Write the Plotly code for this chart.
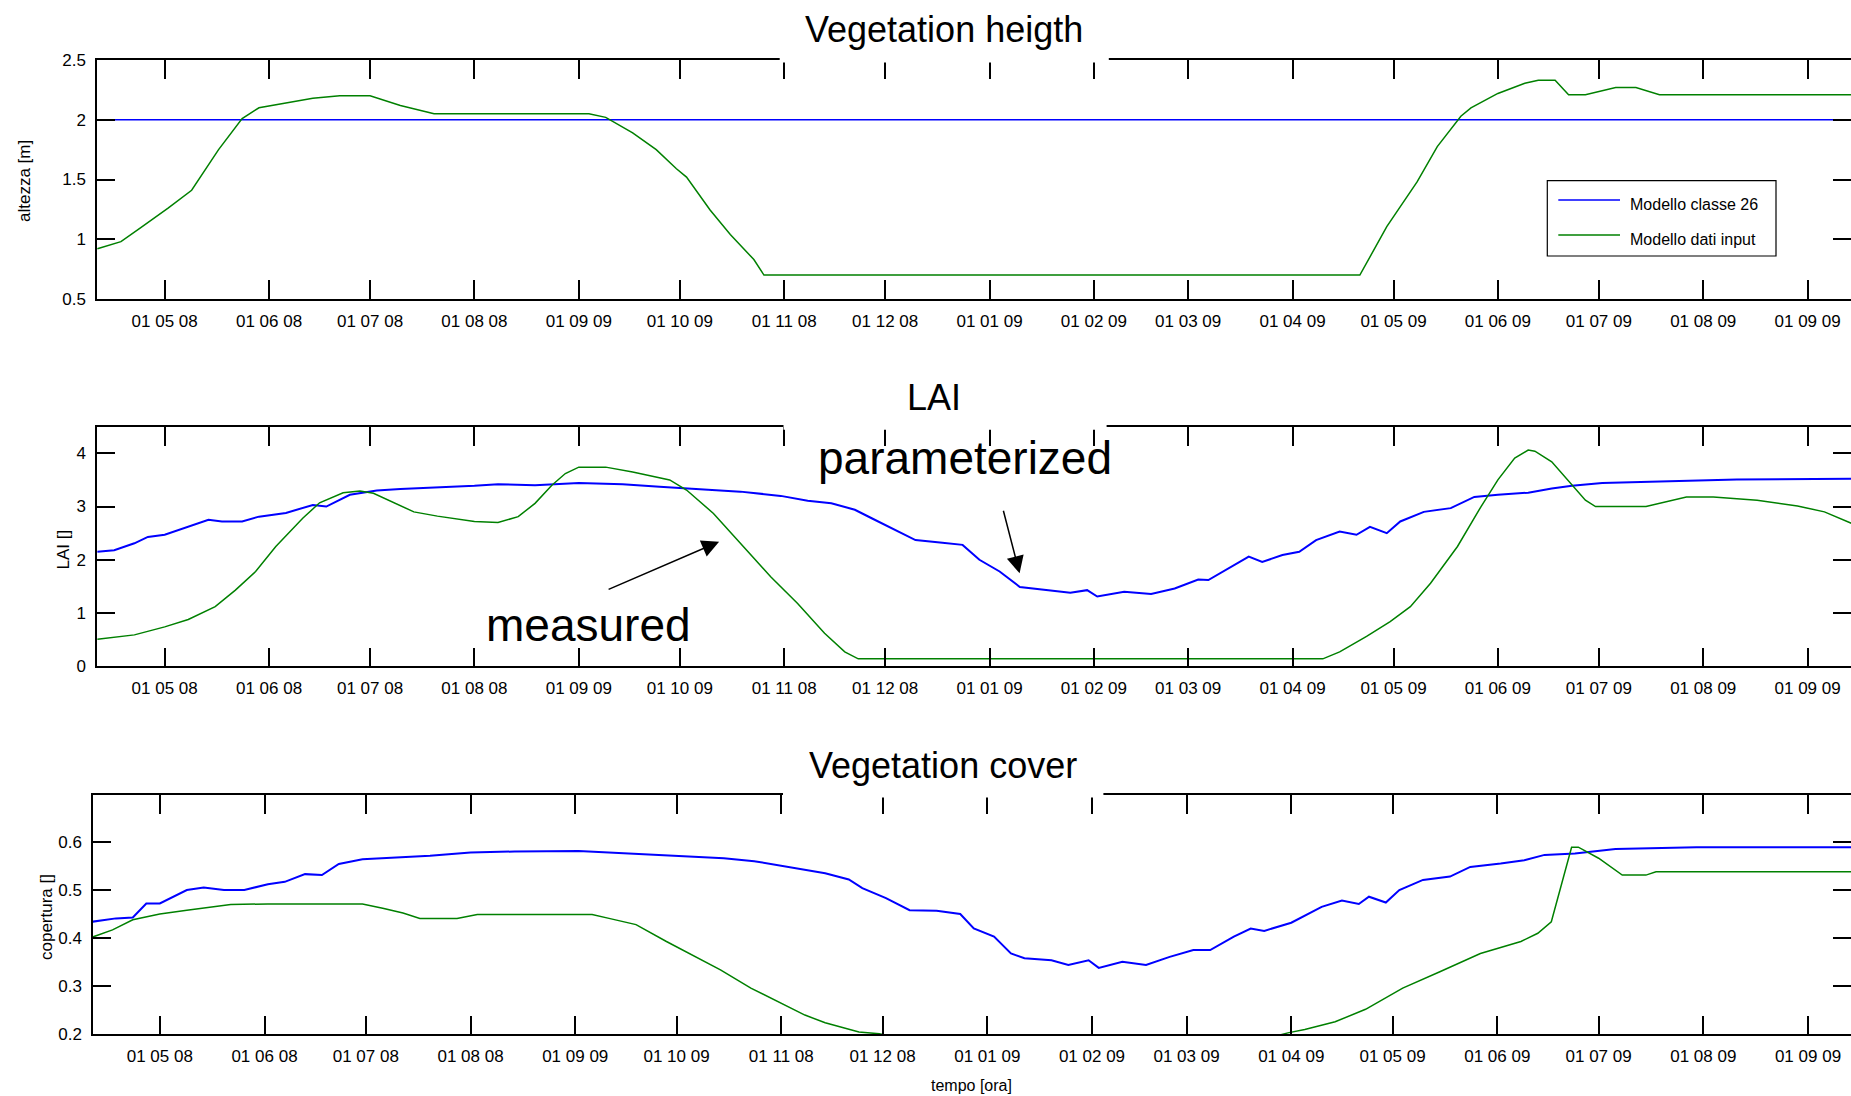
import plotly.graph_objects as go

# ---------------------------------------------------------------------------
# Data
# ---------------------------------------------------------------------------
tick_dates = ["2008-05-01", "2008-06-01", "2008-07-01", "2008-08-01", "2008-09-01",
              "2008-10-01", "2008-11-01", "2008-12-01", "2009-01-01", "2009-02-01",
              "2009-03-01", "2009-04-01", "2009-05-01", "2009-06-01", "2009-07-01",
              "2009-08-01", "2009-09-01"]
tick_text = ["01 05 08", "01 06 08", "01 07 08", "01 08 08", "01 09 09", "01 10 09",
             "01 11 08", "01 12 08", "01 01 09", "01 02 09", "01 03 09", "01 04 09",
             "01 05 09", "01 06 09", "01 07 09", "01 08 09", "01 09 09"]

# Vegetation height [m]
height_class_dates = ["2008-04-11", "2009-09-15"]
height_class = [2.0, 2.0]
height_input_dates = ["2008-04-11", "2008-04-18", "2008-04-24", "2008-05-02", "2008-05-09",
                      "2008-05-17", "2008-05-24", "2008-05-29", "2008-06-14", "2008-06-22",
                      "2008-07-01", "2008-07-10", "2008-07-20", "2008-09-04", "2008-09-09",
                      "2008-09-17", "2008-09-24", "2008-09-30", "2008-10-03", "2008-10-10",
                      "2008-10-16", "2008-10-23", "2008-10-26", "2009-04-21", "2009-04-29",
                      "2009-05-08", "2009-05-14", "2009-05-21", "2009-05-24", "2009-06-01",
                      "2009-06-09", "2009-06-13", "2009-06-18", "2009-06-22", "2009-06-27",
                      "2009-07-06", "2009-07-12", "2009-07-19", "2009-09-15"]
height_input = [0.92, 0.98, 1.10, 1.26, 1.41, 1.75, 2.01, 2.10, 2.18, 2.20,
                2.20, 2.12, 2.05, 2.05, 2.02, 1.89, 1.75, 1.59, 1.52, 1.245,
                1.04, 0.83, 0.70, 0.70, 1.105, 1.48, 1.775, 2.03, 2.10, 2.22,
                2.305, 2.33, 2.33, 2.21, 2.21, 2.27, 2.27, 2.21, 2.21]

# LAI []
lai_class_dates = ["2008-04-11", "2008-04-16", "2008-04-22", "2008-04-26", "2008-05-01",
                   "2008-05-08", "2008-05-14", "2008-05-18", "2008-05-24", "2008-05-29",
                   "2008-06-06", "2008-06-14", "2008-06-18", "2008-06-25", "2008-07-03",
                   "2008-07-10", "2008-07-24", "2008-08-01", "2008-08-08", "2008-08-19",
                   "2008-09-01", "2008-09-14", "2008-09-25", "2008-10-07", "2008-10-19",
                   "2008-10-31", "2008-11-08", "2008-11-15", "2008-11-22", "2008-11-27",
                   "2008-12-03", "2008-12-10", "2008-12-18", "2008-12-24", "2008-12-29",
                   "2009-01-04", "2009-01-10", "2009-01-18", "2009-01-25", "2009-01-30",
                   "2009-02-02", "2009-02-10", "2009-02-18", "2009-02-25", "2009-03-04",
                   "2009-03-07", "2009-03-12", "2009-03-19", "2009-03-23", "2009-03-29",
                   "2009-04-03", "2009-04-08", "2009-04-15", "2009-04-20", "2009-04-24",
                   "2009-04-29", "2009-05-03", "2009-05-10", "2009-05-18", "2009-05-25",
                   "2009-06-01", "2009-06-10", "2009-06-17", "2009-06-23", "2009-07-02",
                   "2009-07-18", "2009-08-11", "2009-09-15"]
lai_class = [2.15, 2.18, 2.31, 2.43, 2.47, 2.62, 2.75, 2.72, 2.72, 2.81,
             2.88, 3.03, 3.00, 3.22, 3.30, 3.33, 3.36, 3.39, 3.42, 3.40,
             3.44, 3.42, 3.37, 3.32, 3.28, 3.20, 3.11, 3.06, 2.94, 2.78,
             2.59, 2.37, 2.32, 2.28, 2.00, 1.78, 1.49, 1.43, 1.38, 1.43,
             1.31, 1.40, 1.36, 1.46, 1.63, 1.62, 1.81, 2.06, 1.96, 2.09,
             2.15, 2.37, 2.53, 2.47, 2.62, 2.50, 2.72, 2.90, 2.97, 3.18,
             3.22, 3.26, 3.34, 3.39, 3.44, 3.47, 3.51, 3.52]
lai_input_dates = ["2008-04-11", "2008-04-22", "2008-05-01", "2008-05-08", "2008-05-16",
                   "2008-05-22", "2008-05-28", "2008-06-03", "2008-06-11", "2008-06-16",
                   "2008-06-23", "2008-06-28", "2008-07-02", "2008-07-14", "2008-07-21",
                   "2008-08-01", "2008-08-08", "2008-08-14", "2008-08-19", "2008-08-24",
                   "2008-08-28", "2008-09-01", "2008-09-09", "2008-09-17", "2008-09-28",
                   "2008-10-03", "2008-10-11", "2008-10-19", "2008-10-28", "2008-11-05",
                   "2008-11-13", "2008-11-19", "2008-11-23", "2009-04-10", "2009-04-15",
                   "2009-04-23", "2009-04-30", "2009-05-06", "2009-05-12", "2009-05-20",
                   "2009-05-27", "2009-06-01", "2009-06-06", "2009-06-10", "2009-06-12",
                   "2009-06-17", "2009-06-23", "2009-06-27", "2009-06-30", "2009-07-15",
                   "2009-07-27", "2009-08-04", "2009-08-17", "2009-08-29", "2009-09-06",
                   "2009-09-15"]
lai_input = [0.51, 0.59, 0.74, 0.88, 1.12, 1.43, 1.78, 2.25, 2.78, 3.07,
             3.26, 3.29, 3.25, 2.90, 2.82, 2.72, 2.70, 2.81, 3.06, 3.40,
             3.62, 3.74, 3.74, 3.65, 3.50, 3.31, 2.87, 2.31, 1.68, 1.18,
             0.62, 0.27, 0.14, 0.14, 0.27, 0.56, 0.84, 1.12, 1.56, 2.25,
             3.00, 3.50, 3.91, 4.06, 4.04, 3.84, 3.40, 3.12, 3.00, 3.00,
             3.18, 3.18, 3.12, 3.01, 2.90, 2.66]

# Vegetation cover []
cover_class_dates = ["2008-04-11", "2008-04-18", "2008-04-23", "2008-04-27", "2008-05-01",
                     "2008-05-05", "2008-05-09", "2008-05-14", "2008-05-20", "2008-05-26",
                     "2008-06-02", "2008-06-07", "2008-06-13", "2008-06-18", "2008-06-23",
                     "2008-06-30", "2008-07-12", "2008-07-20", "2008-08-01", "2008-08-14",
                     "2008-09-02", "2008-09-15", "2008-09-28", "2008-10-15", "2008-10-24",
                     "2008-11-05", "2008-11-14", "2008-11-21", "2008-11-25", "2008-12-02",
                     "2008-12-09", "2008-12-17", "2008-12-24", "2008-12-28", "2009-01-03",
                     "2009-01-08", "2009-01-12", "2009-01-20", "2009-01-25", "2009-01-31",
                     "2009-02-03", "2009-02-10", "2009-02-17", "2009-02-24", "2009-03-03",
                     "2009-03-08", "2009-03-15", "2009-03-20", "2009-03-24", "2009-04-01",
                     "2009-04-10", "2009-04-16", "2009-04-21", "2009-04-24", "2009-04-29",
                     "2009-05-03", "2009-05-10", "2009-05-18", "2009-05-24", "2009-06-02",
                     "2009-06-09", "2009-06-15", "2009-06-24", "2009-07-06", "2009-07-30",
                     "2009-09-15"]
cover_class = [0.434, 0.441, 0.443, 0.472, 0.472, 0.486, 0.500, 0.505, 0.500, 0.500,
               0.512, 0.517, 0.533, 0.531, 0.554, 0.564, 0.569, 0.571, 0.578, 0.580,
               0.581, 0.576, 0.571, 0.566, 0.560, 0.545, 0.535, 0.522, 0.504, 0.483,
               0.458, 0.457, 0.450, 0.420, 0.403, 0.368, 0.358, 0.354, 0.344, 0.354,
               0.338, 0.351, 0.344, 0.361, 0.375, 0.375, 0.403, 0.420, 0.415, 0.432,
               0.465, 0.478, 0.471, 0.486, 0.474, 0.500, 0.521, 0.528, 0.548, 0.555,
               0.562, 0.573, 0.576, 0.585, 0.589, 0.589]
cover_input_dates = ["2008-04-11", "2008-04-17", "2008-04-23", "2008-05-01", "2008-05-09",
                     "2008-05-16", "2008-05-22", "2008-06-02", "2008-06-30", "2008-07-06",
                     "2008-07-12", "2008-07-17", "2008-07-28", "2008-08-03", "2008-09-06",
                     "2008-09-11", "2008-09-19", "2008-09-28", "2008-10-07", "2008-10-14",
                     "2008-10-23", "2008-11-01", "2008-11-08", "2008-11-14", "2008-11-20",
                     "2008-11-24", "2008-11-30", "2008-12-08", "2009-03-24", "2009-03-31",
                     "2009-04-05", "2009-04-14", "2009-04-23", "2009-05-04", "2009-05-15",
                     "2009-05-27", "2009-06-08", "2009-06-13", "2009-06-17", "2009-06-20",
                     "2009-06-23", "2009-06-25", "2009-07-01", "2009-07-08", "2009-07-15",
                     "2009-07-18", "2009-09-15"]
cover_input = [0.402, 0.417, 0.438, 0.450, 0.458, 0.464, 0.470, 0.471, 0.471, 0.462,
               0.452, 0.441, 0.441, 0.449, 0.449, 0.441, 0.428, 0.393, 0.360, 0.334,
               0.296, 0.264, 0.240, 0.224, 0.212, 0.205, 0.201, 0.190, 0.190, 0.203,
               0.210, 0.226, 0.252, 0.296, 0.330, 0.368, 0.393, 0.410, 0.434, 0.514,
               0.589, 0.589, 0.566, 0.531, 0.531, 0.538, 0.538]

# ---------------------------------------------------------------------------
# Layout helpers (pixel -> paper fractions, zero margins)
# ---------------------------------------------------------------------------
W, H = 1851, 1096


def fx(x):
    return x / W


def fy(y):
    return 1 - y / H


BLUE = "rgb(0,0,255)"
GREEN = "rgb(0,128,0)"
SANS = "Liberation Sans, Arial, Helvetica, sans-serif"

# panel boxes in pixels: (left, top, bottom)
panels = [(97, 60.0, 299.0), (97, 427.3, 666.3), (93, 795.0, 1034.3)]
x_ranges = [["2008-04-10 21:22", "2009-09-13 21:20"],
            ["2008-04-10 21:22", "2009-09-13 21:20"],
            ["2008-04-11 05:17", "2009-09-13 17:30"]]
y_ranges = [[0.5, 2.5], [0, 4.488], [0.2, 0.6975]]
y_ticks = [([0.5, 1, 1.5, 2, 2.5], ["0.5", "1", "1.5", "2", "2.5"]),
           ([0, 1, 2, 3, 4], ["0", "1", "2", "3", "4"]),
           ([0.2, 0.3, 0.4, 0.5, 0.6], ["0.2", "0.3", "0.4", "0.5", "0.6"])]

fig = go.Figure()

series = [
    (height_class_dates, height_class, height_input_dates, height_input),
    (lai_class_dates, lai_class, lai_input_dates, lai_input),
    (cover_class_dates, cover_class, cover_input_dates, cover_input),
]
for i, (bd, bv, gd, gv) in enumerate(series):
    xa = "x" if i == 0 else f"x{i + 1}"
    ya = "y" if i == 0 else f"y{i + 1}"
    fig.add_trace(go.Scatter(x=bd, y=bv, mode="lines", name="Modello classe 26",
                             line=dict(color=BLUE, width=1.5 if i == 0 else 2),
                             xaxis=xa, yaxis=ya, showlegend=False))
    fig.add_trace(go.Scatter(x=gd, y=gv, mode="lines", name="Modello dati input",
                             line=dict(color=GREEN, width=1.5),
                             xaxis=xa, yaxis=ya, showlegend=False))

layout = dict(
    width=W, height=H,
    margin=dict(l=0, r=0, t=0, b=0, pad=0),
    paper_bgcolor="white", plot_bgcolor="white",
    showlegend=False,
)
for i, (left, top, bottom) in enumerate(panels):
    xkey = "xaxis" if i == 0 else f"xaxis{i + 1}"
    ykey = "yaxis" if i == 0 else f"yaxis{i + 1}"
    yname = "y" if i == 0 else f"y{i + 1}"
    xname = "x" if i == 0 else f"x{i + 1}"
    layout[xkey] = dict(
        type="date", range=x_ranges[i], domain=[fx(left), 1.0], anchor=yname,
        tickmode="array", tickvals=tick_dates, ticktext=tick_text,
        ticks="inside", ticklen=19, tickwidth=1.5, tickcolor="black",
        showline=True, linecolor="black", linewidth=1.5, mirror="ticks",
        showgrid=False, zeroline=False, automargin=False,
        tickfont=dict(family=SANS, size=17, color="black"),
        ticklabelstandoff=6,
    )
    layout[ykey] = dict(
        range=y_ranges[i], domain=[fy(bottom), fy(top)], anchor=xname,
        tickmode="array", tickvals=y_ticks[i][0], ticktext=y_ticks[i][1],
        ticks="inside", ticklen=18, tickwidth=1.5, tickcolor="black",
        showline=True, linecolor="black", linewidth=1.5, mirror="ticks",
        showgrid=False, zeroline=False, automargin=False,
        tickfont=dict(family=SANS, size=17, color="black"),
        ticklabelstandoff=6,
    )
fig.update_layout(**layout)

shapes = []
# white boxes behind the panel titles, interrupting the top frame line
for (x0, x1, top) in [(779.7, 1108.8, 60.0), (783.5, 1106.6, 427.3), (783.0, 1103.4, 795.0)]:
    shapes.append(dict(type="rect", xref="paper", yref="paper",
                       x0=fx(x0), x1=fx(x1), y0=fy(top + 2.5), y1=fy(top - 4),
                       fillcolor="white", line=dict(width=0), layer="above"))
# legend frame and swatches
shapes.append(dict(type="rect", xref="paper", yref="paper",
                   x0=fx(1547.3), x1=fx(1776), y0=fy(256), y1=fy(180.7),
                   fillcolor="white", line=dict(color="black", width=1.2), layer="above"))
shapes.append(dict(type="line", xref="paper", yref="paper",
                   x0=fx(1558.3), x1=fx(1620), y0=fy(200), y1=fy(200),
                   line=dict(color=BLUE, width=1.5), layer="above"))
shapes.append(dict(type="line", xref="paper", yref="paper",
                   x0=fx(1558.3), x1=fx(1620), y0=fy(235), y1=fy(235),
                   line=dict(color=GREEN, width=1.5), layer="above"))

annotations = []


def label(text, x, y, size, family=SANS, angle=0, xanchor="center"):
    annotations.append(dict(text=text, x=fx(x), y=fy(y), xref="paper", yref="paper",
                            showarrow=False, xanchor=xanchor, yanchor="middle",
                            textangle=angle,
                            font=dict(family=family, size=size, color="black")))


label("Vegetation heigth", 944.3, 30, 36)
label("LAI", 934, 397.5, 36)
label("Vegetation cover", 943, 765.8, 36)
label("parameterized", 965.2, 458, 46)
label("measured", 588, 625, 46)
label("altezza [m]", 24, 181, 17, angle=-90)
label("LAI []", 62.5, 550, 17, angle=-90)
label("copertura []", 46.5, 917.5, 17, angle=-90)
label("tempo [ora]", 972, 1085, 16)
label("Modello classe 26", 1627.7, 205, 16, xanchor="left")
label("Modello dati input", 1627.7, 239, 16, xanchor="left")

# arrows pointing at the two curves
for (tipx, tipy, tailx, taily) in [(719.1, 541.7, 607.1, 590.0), (1019.6, 573.3, 1003.0, 509.3)]:
    annotations.append(dict(text="", x=fx(tipx), y=fy(tipy), xref="paper", yref="paper",
                            ax=tailx - tipx, ay=taily - tipy, axref="pixel", ayref="pixel",
                            showarrow=True, arrowhead=2, arrowsize=2.3, arrowwidth=1.5,
                            arrowcolor="black"))

fig.update_layout(shapes=shapes, annotations=annotations)
fig.write_html("out.html")
